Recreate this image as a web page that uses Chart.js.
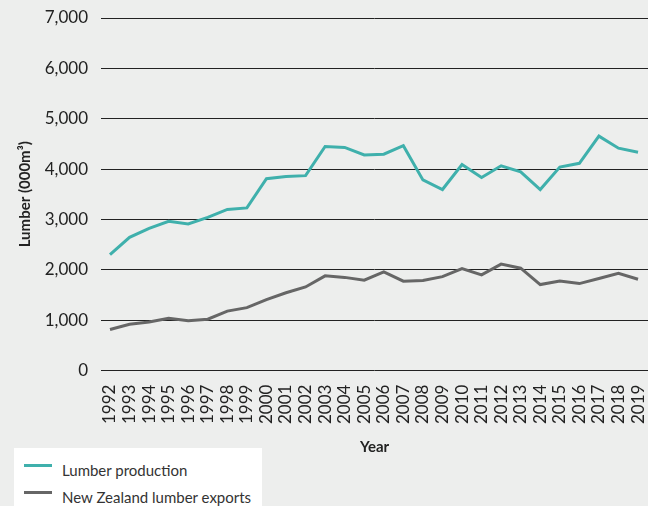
<!DOCTYPE html>
<html>
<head>
<meta charset="utf-8">
<script src="https://cdn.jsdelivr.net/npm/chart.js@4"></script>
<style>
  html, body { margin: 0; padding: 0; background: #edeeed; }
  #wrap { position: relative; width: 648px; height: 506px; }
  #legend {
    position: absolute; left: 14px; top: 448px; width: 248px; height: 58px;
    background: #fff; font-family: Lato, sans-serif; font-size: 15px; color: #333;
  }
  .item { position: absolute; left: 10px; height: 20px; line-height: 20px; }
  .item span.swatch { position: absolute; left: 0; top: 4px; width: 28px; height: 3px; }
  .item span.txt { position: absolute; left: 38px; white-space: nowrap; }
</style>
</head>
<body>
<div id="wrap">
  <canvas id="lumberChart" width="648" height="506"></canvas>
  <div id="legend"></div>
</div>
<script>
const years = [1992, 1993, 1994, 1995, 1996, 1997, 1998, 1999, 2000, 2001, 2002, 2003, 2004, 2005,
               2006, 2007, 2008, 2009, 2010, 2011, 2012, 2013, 2014, 2015, 2016, 2017, 2018, 2019];
const production = [2300, 2645, 2825, 2965, 2910, 3040, 3200, 3230, 3810, 3855, 3870, 4450, 4430, 4280,
                    4295, 4465, 3785, 3595, 4090, 3833, 4065, 3945, 3595, 4040, 4115, 4655, 4415, 4333];
const exports = [815, 920, 965, 1040, 990, 1020, 1180, 1250, 1410, 1545, 1660, 1880, 1850, 1795,
                 1960, 1775, 1787, 1865, 2025, 1900, 2113, 2033, 1707, 1780, 1727, 1827, 1933, 1813];
const yTicks = [0, 1000, 2000, 3000, 4000, 5000, 6000, 7000];
const seriesNames = ["Lumber production", "New Zealand lumber exports"];
const seriesColors = ["#3fb0ac", "#666666"];

document.addEventListener("DOMContentLoaded", function () {
    const area = document.getElementById("lumberChart");
    new Chart(area.getContext("2d"), {
        type: "line",
        data: {
            datasets: [
                {
                    label: seriesNames[0],
                    data: years.map((y, i) => ({ x: y, y: production[i] })),
                    borderColor: seriesColors[0],
                    borderWidth: 3,
                    pointRadius: 0,
                    tension: 0,
                },
                {
                    label: seriesNames[1],
                    data: years.map((y, i) => ({ x: y, y: exports[i] })),
                    borderColor: seriesColors[1],
                    borderWidth: 3,
                    pointRadius: 0,
                    tension: 0,
                },
            ],
        },
        options: {
            responsive: false,
            animation: false,
            layout: { padding: { top: 18, right: 0, bottom: 46, left: 12 } },
            plugins: { legend: { display: false }, tooltip: { enabled: false } },
            scales: {
                x: {
                    type: "linear",
                    min: 1991.54,
                    max: 2019.51,
                    afterBuildTicks: (scale) => { scale.ticks = years.map(v => ({ value: v })); },
                    afterFit: (scale) => { scale.paddingRight = 0; scale.paddingLeft = 0; },
                    grid: { display: false },
                    border: { display: false },
                    ticks: {
                        autoSkip: false,
                        minRotation: 90,
                        maxRotation: 90,
                        padding: 6,
                        color: "#222",
                        font: { family: "Lato", size: 17 },
                        callback: (v) => String(v),
                    },
                    title: {
                        display: true,
                        text: "Year",
                        color: "#222",
                        font: { family: "Lato", size: 15, weight: "bold" },
                        padding: { top: 8 },
                    },
                },
                y: {
                    min: 0,
                    max: 7000,
                    afterBuildTicks: (scale) => { scale.ticks = yTicks.map(v => ({ value: v })); },
                    afterFit: (scale) => { scale.width = 89; scale.paddingTop = 0; scale.paddingBottom = 0; },
                    grid: { color: "#222", lineWidth: 1, drawTicks: false },
                    border: { display: false },
                    ticks: {
                        padding: 13,
                        color: "#222",
                        font: { family: "Lato", size: 17 },
                        callback: (v) => v.toLocaleString("en-US"),
                    },
                    title: {
                        display: true,
                        text: "Lumber (000m\u00b3)",
                        color: "#222",
                        font: { family: "Lato", size: 15, weight: "bold" },
                        padding: { top: 4, bottom: 4 },
                    },
                },
            },
        },
    });

    const legend = document.getElementById("legend");
    seriesNames.forEach((name, i) => {
        const item = document.createElement("div");
        item.className = "item";
        item.style.top = (12 + i * 27) + "px";
        item.innerHTML = '<span class="swatch" style="background:' + seriesColors[i] + '"></span><span class="txt">' + name + '</span>';
        legend.appendChild(item);
    });
});
</script>
</body>
</html>
